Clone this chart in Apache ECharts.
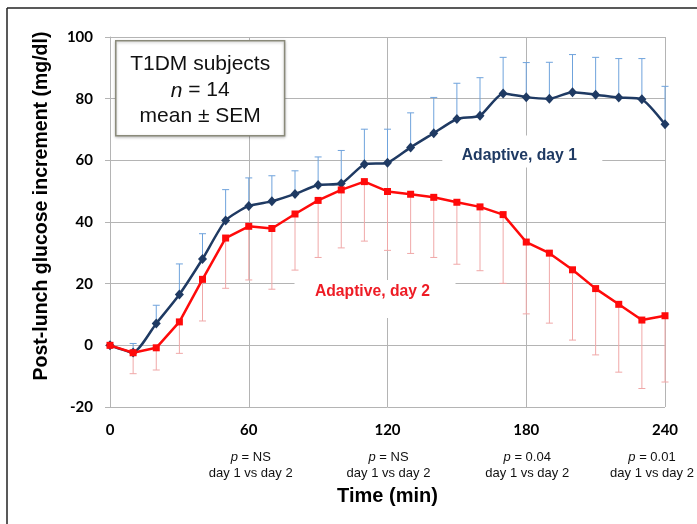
<!DOCTYPE html>
<html>
<head>
<meta charset="utf-8">
<script src="https://cdn.jsdelivr.net/npm/echarts@6/dist/echarts.min.js"></script>
<style>
html,body{margin:0;padding:0;background:#fff;}
#chart{width:697px;height:524px;}
</style>
</head>
<body>
<div id="chart"></div>
<script>
// ---- data ----
const times = [0,10,20,30,40,50,60,70,80,90,100,110,120,130,140,150,160,170,180,190,200,210,220,230,240];
const day1Mean = [0,-2.3,7.1,16.5,28.0,40.5,45.2,46.7,49.1,52.0,52.5,58.7,59.2,64.2,68.8,73.4,74.5,81.7,80.5,80.0,82.1,81.3,80.4,79.8,71.7];
const day1Sem  = [0,2.9,5.9,9.9,8.2,10.0,9.1,8.3,7.5,9.1,10.7,11.4,10.9,11.2,11.6,11.6,12.3,11.7,11.2,11.8,12.2,12.1,12.6,13.2,12.3];
const day2Mean = [0,-2.4,-0.8,7.6,21.4,34.8,38.6,37.9,42.6,47.0,50.4,53.1,49.9,49.0,48.0,46.4,44.9,42.4,33.5,29.9,24.5,18.4,13.3,8.2,9.6];
const day2Sem  = [0,6.8,7.2,10.2,13.5,16.3,17.4,19.7,18.2,18.5,18.8,19.3,19.1,19.2,19.5,20.1,20.7,22.3,23.3,22.7,22.8,21.5,22.0,22.2,21.5];
const xTicks = [0,60,120,180,240];
const pTimes = [60,120,180,240];
const pValues = ['NS','NS','0.04','0.01'];
const seriesNames = ['Adaptive, day 1','Adaptive, day 2'];
const infoLines = ['T1DM subjects','n = 14','mean \u00b1 SEM'];
const yTitle = 'Post-lunch glucose increment (mg/dl)';

const chart = echarts.init(document.getElementById('chart'), null, {renderer:'canvas'});

function errRender(sign, color){
  return function(params, api){
    const t = api.value(0), m = api.value(1), s = api.value(2);
    if (!s) return null;
    const p0 = api.coord([t, m]);
    const p1 = api.coord([t, m + sign*s]);
    const w = 3.5;
    return {
      type:'group',
      children:[
        {type:'line', shape:{x1:p0[0],y1:p0[1],x2:p1[0],y2:p1[1]}, style:{stroke:color,lineWidth:1}},
        {type:'line', shape:{x1:p1[0]-w,y1:p1[1],x2:p1[0]+w,y2:p1[1]}, style:{stroke:color,lineWidth:1}}
      ]
    };
  };
}

const d1 = times.map((t,i)=>[t, day1Mean[i]]);
const d2 = times.map((t,i)=>[t, day2Mean[i]]);
const e1 = times.map((t,i)=>[t, day1Mean[i], day1Sem[i]]);
const e2 = times.map((t,i)=>[t, day2Mean[i], day2Sem[i]]);

const gridColor = '#b4b4b4';
const option = {
  animation:false,
  backgroundColor:'#fff',
  grid:{left:110, right:32, top:37, bottom:117},
  xAxis:{
    type:'value', min:0, max:240, interval:60,
    name:'Time (min)', nameLocation:'middle', nameGap:79,
    nameTextStyle:{fontFamily:'Liberation Sans', fontWeight:'bold', fontSize:20, color:'#000'},
    axisLine:{show:true, lineStyle:{color:gridColor, width:1}},
    axisTick:{show:true, length:5, lineStyle:{color:gridColor}},
    axisLabel:{fontFamily:'Lato', fontWeight:'bold', fontSize:15, color:'#000', margin:16,
      formatter: v => xTicks.indexOf(v) >= 0 ? String(v) : ''},
    splitLine:{show:true, lineStyle:{color:gridColor, width:1}}
  },
  yAxis:{
    type:'value', min:-20, max:100, interval:20,
    axisLine:{show:true, lineStyle:{color:gridColor, width:1}},
    axisTick:{show:true, length:5, lineStyle:{color:gridColor}},
    axisLabel:{fontFamily:'Lato', fontWeight:'bold', fontSize:15, color:'#000', margin:17},
    splitLine:{show:true, lineStyle:{color:gridColor, width:1}}
  },
  series:[
    {type:'custom', name:'err1', data:e1, renderItem:errRender(1,'#6fa3dc'), z:2, silent:true},
    {type:'custom', name:'err2', data:e2, renderItem:errRender(-1,'#f0a8a8'), z:2, silent:true},
    {type:'line', name:seriesNames[0], data:d1, smooth:0.2, symbol:'diamond', symbolSize:[9,10],
      lineStyle:{color:'#1f3a63', width:2.5}, itemStyle:{color:'#1f3a63'}, z:3},
    {type:'line', name:seriesNames[1], data:d2, smooth:false, symbol:'rect', symbolSize:7,
      lineStyle:{color:'#ff0a0a', width:2.5}, itemStyle:{color:'#ff0a0a'}, z:4}
  ],
  graphic:[]
};
chart.setOption(option);

function px(t, v){ return chart.convertToPixel({gridIndex:0}, [t, v]); }
const g = [];
// outer frame (left + top)
g.push({type:'line', shape:{x1:7,y1:8,x2:697,y2:8}, style:{stroke:'#222',lineWidth:1.5}, z:10});
g.push({type:'line', shape:{x1:7,y1:8,x2:7,y2:524}, style:{stroke:'#222',lineWidth:1.5}, z:10});

// y-axis title
g.push({type:'text', x:42, y:206, rotation:Math.PI/2, z:10,
  style:{text:yTitle, fontFamily:'Liberation Sans', fontWeight:'bold', fontSize:19.5, fill:'#000', align:'center', verticalAlign:'middle'}});

// info box
const bx0 = px(2.5, 98.8), bx1 = px(75.5, 68);
g.push({type:'rect', shape:{x:bx0[0], y:bx0[1], width:bx1[0]-bx0[0], height:bx1[1]-bx0[1]},
  style:{fill:'#fff', stroke:'#8a8a7a', lineWidth:1.5, shadowBlur:3, shadowColor:'rgba(0,0,0,0.25)', shadowOffsetY:1}, z:10});
const cx = (bx0[0]+bx1[0])/2;
g.push({type:'text', x:cx, y:bx0[1]+24, z:11,
  style:{text:infoLines[0], fontFamily:'Liberation Sans', fontSize:21, fill:'#111', align:'center', verticalAlign:'middle'}});
g.push({type:'text', x:cx, y:bx0[1]+50, z:11,
  style:{text:'{i|n} = 14', fontFamily:'Liberation Sans', fontSize:21, fill:'#111', align:'center', verticalAlign:'middle',
    rich:{i:{fontStyle:'italic', fontFamily:'Liberation Sans', fontSize:21, fill:'#111'}}}});
g.push({type:'text', x:cx, y:bx0[1]+76, z:11,
  style:{text:infoLines[2], fontFamily:'Liberation Sans', fontSize:21, fill:'#111', align:'center', verticalAlign:'middle'}});

// series labels with white backing
function seriesLabel(tText, vText, tBox, vBox, w, h, text, color){
  const b = px(tBox, vBox);
  g.push({type:'rect', shape:{x:b[0]-w/2, y:b[1]-h/2, width:w, height:h}, style:{fill:'#fff'}, z:5});
  const p = px(tText, vText);
  g.push({type:'text', x:p[0], y:p[1], z:6,
    style:{text:text, fontFamily:'Liberation Sans', fontWeight:'bold', fontSize:15.7, fill:color, align:'center', verticalAlign:'middle'}});
}
seriesLabel(177, 61.6, 178.3, 62.9, 160, 32, seriesNames[0], '#1f3a63');
seriesLabel(113.5, 17.3, 114.6, 15.0, 161, 38, seriesNames[1], '#ee1c25');

// p-value annotations
const shifts = [2, 1, 1, -13];
pTimes.forEach((t,i)=>{
  const p = px(t, -20);
  g.push({type:'text', x:p[0]+shifts[i], y:p[1]+58.5, z:10,
    style:{text:'{i|p} = '+pValues[i]+'\nday 1 vs day 2', fontFamily:'Liberation Sans',
      fontSize:13, lineHeight:16, fill:'#111', align:'center', verticalAlign:'middle',
      rich:{i:{fontStyle:'italic', fontFamily:'Liberation Sans', fontSize:13, fill:'#111'}}}});
});
chart.setOption({graphic:g});
</script>
</body>
</html>
